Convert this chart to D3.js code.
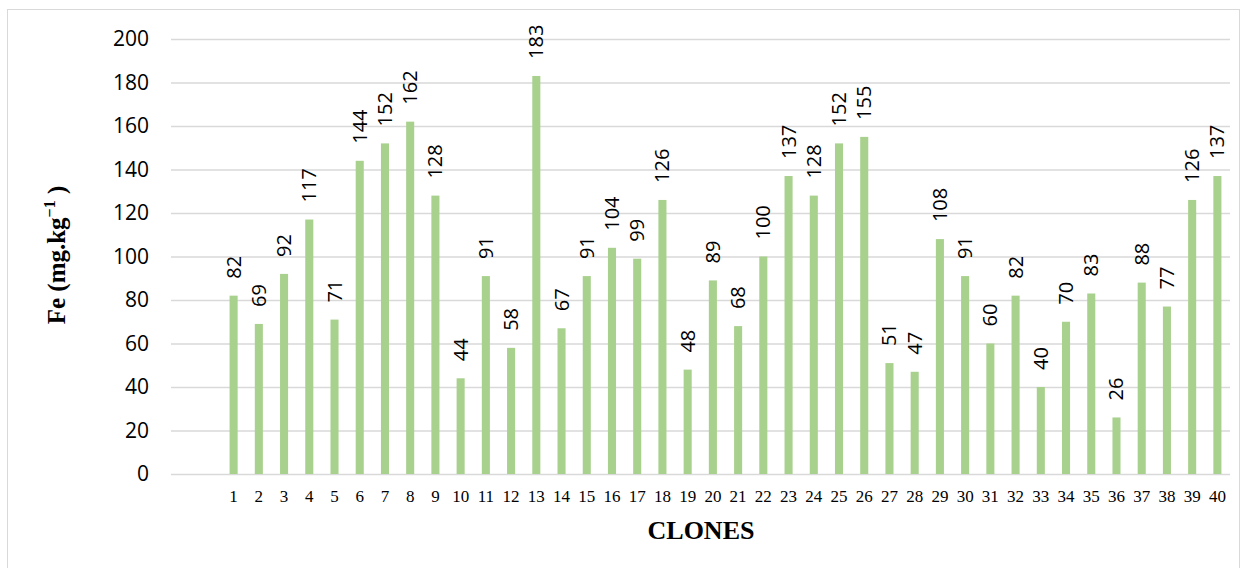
<!DOCTYPE html>
<html><head><meta charset="utf-8">
<script src="https://cdn.jsdelivr.net/npm/d3@7"></script>
<style>body{margin:0;background:#fff}svg{display:block}</style>
</head><body>
<svg id="c" width="1248" height="568"></svg>
<script>
const categories = d3.range(1, 41).map(String);
const feValues = [82,69,92,117,71,144,152,162,128,44,91,58,183,67,91,104,99,126,48,89,68,100,137,128,152,155,51,47,108,91,60,82,40,70,83,26,88,77,126,137];
const yTicks = [0,20,40,60,80,100,120,140,160,180,200];

const svg = d3.select("#c");
svg.append("rect").attr("x",7.5).attr("y",9.5).attr("width",1232).attr("height",570)
  .attr("fill","#fff").attr("stroke","#D9D9D9");

const y = d3.scaleLinear().domain([0,200]).range([474,39]);
const x = d3.scaleBand().domain(categories).range([221,1230]).paddingInner(0.68).paddingOuter(0.34);

const gy = svg.append("g").attr("transform","translate(171,0)")
  .call(d3.axisLeft(y).tickValues(yTicks).tickSize(-1059).tickPadding(22));
gy.select(".domain").remove();
gy.selectAll(".tick line").attr("stroke","#D9D9D9").attr("stroke-width",1.3);
gy.selectAll(".tick text").attr("font-family","'Open Sans', 'Liberation Sans', sans-serif").attr("font-size",21).attr("fill","#000");

svg.append("g").selectAll("rect").data(feValues).join("rect")
  .attr("x",(d,i)=>x(categories[i])).attr("width",x.bandwidth())
  .attr("y",d=>y(d)).attr("height",d=>y(0)-y(d)).attr("fill","#A9D18E");

const gx = svg.append("g").attr("transform","translate(0,474)")
  .call(d3.axisBottom(x).tickSize(0).tickPadding(16));
gx.select(".domain").remove();
gx.selectAll(".tick text").attr("font-family","'Liberation Serif', 'Times New Roman', serif").attr("font-size",17).attr("fill","#000");

svg.append("g").selectAll("text").data(feValues).join("text")
  .attr("transform",(d,i)=>`translate(${x(categories[i])+x.bandwidth()/2+7},${y(d)-17}) rotate(-90)`)
  .attr("font-family","'Open Sans', 'Liberation Sans', sans-serif").attr("font-size",20).attr("fill","#000")
  .text(d=>d);

svg.append("text").attr("x",701).attr("y",539).attr("text-anchor","middle")
  .attr("font-family","'Liberation Serif', 'Times New Roman', serif").attr("font-weight","bold").attr("font-size",26)
  .text("CLONES");

const yl = svg.append("text").attr("transform","translate(65,255) rotate(-90)").attr("text-anchor","middle")
  .attr("font-family","'Liberation Serif', 'Times New Roman', serif").attr("font-weight","bold").attr("font-size",25);
yl.append("tspan").text("Fe (mg.kg");
yl.append("tspan").attr("dy",-10).attr("font-size",16).text("−1");
yl.append("tspan").attr("dy",10).text(" )");
</script>
</body></html>
